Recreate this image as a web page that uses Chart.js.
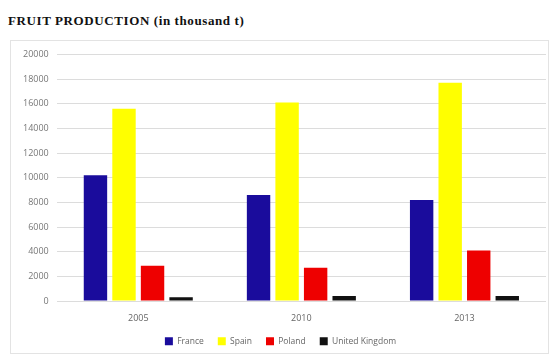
<!DOCTYPE html>
<html>
<head>
<meta charset="utf-8">
<script src="https://cdn.jsdelivr.net/npm/chart.js@4"></script>
<style>
  body { margin: 0; background: #fff; width: 555px; height: 356px; position: relative; overflow: hidden; }
  .title { position: absolute; left: 8px; top: 13px; font: bold 13px "Liberation Serif", "DejaVu Serif", serif; color: #111; letter-spacing: 0.6px; }
  .box { position: absolute; left: 10px; top: 40px; width: 537px; height: 312px; border: 1px solid #e3e3e3; }
  canvas { display: block; }
</style>
</head>
<body>
<div class="title">FRUIT PRODUCTION (in thousand t)</div>
<div class="box"><canvas id="fruitChart" width="537" height="312"></canvas></div>
<script>
const years = ['2005', '2010', '2013']
const france = [10200, 8600, 8200]
const spain = [15600, 16100, 17700]
const poland = [2850, 2700, 4100]
const unitedKingdom = [300, 400, 400]

const tickFont = { family: 'Open Sans', size: 9 }

// keep the wide item spacing but make the legend box shorter
const tightLegend = {
  id: 'tightLegend',
  beforeLayout (chart) {
    const legend = chart.legend
    if (legend && !legend._tight) {
      const fit = legend.fit.bind(legend)
      legend.fit = function () { fit(); this.height = 30 }
      legend._tight = true
    }
  }
}

new Chart(document.getElementById('fruitChart').getContext('2d'), {
  type: 'bar',
  data: {
    labels: years,
    datasets: [
      { label: 'France', data: france, backgroundColor: '#1a0c9c' },
      { label: 'Spain', data: spain, backgroundColor: '#ffff00' },
      { label: 'Poland', data: poland, backgroundColor: '#ee0000' },
      { label: 'United Kingdom', data: unitedKingdom, backgroundColor: '#111111' }
    ]
  },
  plugins: [tightLegend],
  options: {
    responsive: false,
    animation: false,
    categoryPercentage: 0.7,
    barPercentage: 0.82,
    layout: { padding: { top: 2, right: 2, left: 4, bottom: 0 } },
    plugins: {
      legend: {
        position: 'bottom',
        labels: { boxWidth: 8, boxHeight: 8, padding: 14, color: '#666', font: { family: 'Open Sans', size: 8.5 } }
      },
      tooltip: { enabled: false }
    },
    scales: {
      x: {
        grid: { display: false },
        border: { display: false },
        ticks: { color: '#666', font: tickFont, padding: 4 },
        afterFit: (scale) => { scale.height = 22 }
      },
      y: {
        min: 0,
        max: 20000,
        ticks: { stepSize: 2000, color: '#777', font: tickFont, padding: 8, callback: (v) => String(v) },
        grid: { color: '#dcdcdc', drawTicks: false },
        border: { display: false }
      }
    }
  }
})
</script>
</body>
</html>
